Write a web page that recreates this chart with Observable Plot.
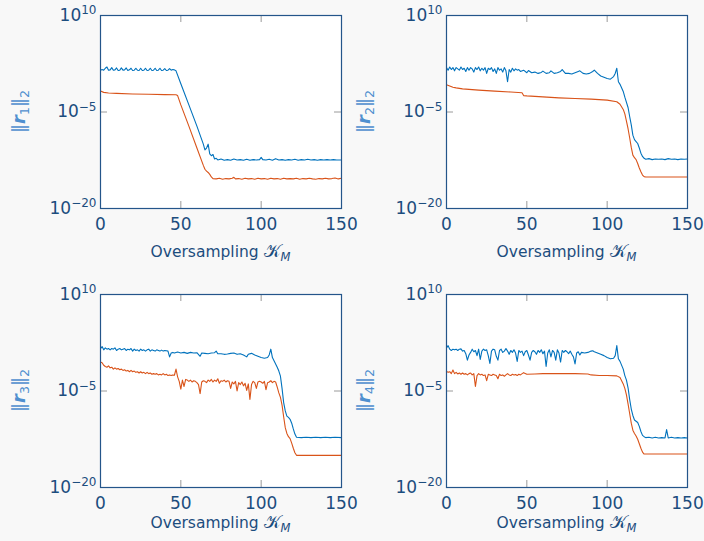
<!DOCTYPE html>
<html><head><meta charset="utf-8">
<script src="https://cdn.jsdelivr.net/npm/d3@7"></script>
<script src="https://cdn.jsdelivr.net/npm/@observablehq/plot@0.6"></script>
<style>
body{margin:0;background:#f8f8f8;}
#wrap{position:relative;width:704px;height:541px;overflow:hidden;font-family:"DejaVu Sans",sans-serif;}
.panel{position:absolute;}
</style></head><body><div id="wrap"></div>
<script>
// tick values
const kTicks = [0, 50, 100, 150];
const yTicks = [1e10, 1e-5, 1e-20];
const xLabel = "Oversampling ";
const xLabelSym = "𝒦";
const xLabelSub = "M";
const seriesNames = ["blue", "orange"];

// values are [k, log10(||r||_2)]
const r1Blue = [[0,1.5],[1,1.6],[2,1.5],[3,1.8],[4,2.0],[5,1.5],[6,1.55],[7,1.9],[8,1.5],[9,1.55],[10,1.85],[11,1.45],[12,1.5],[13,1.85],[14,1.5],[15,1.55],[16,1.85],[17,1.45],[18,1.55],[19,1.8],[20,1.45],[21,1.5],[22,1.8],[23,1.5],[24,1.45],[25,1.8],[26,1.45],[27,1.5],[28,1.8],[29,1.45],[30,1.5],[31,1.8],[32,1.45],[33,1.5],[34,1.8],[35,1.45],[36,1.5],[37,1.8],[38,1.45],[39,1.5],[40,1.75],[41,1.45],[42,1.5],[43,1.75],[44,1.5],[45,1.6],[46,1.55],[47,1.4],[50,-0.6],[55,-3.9],[60,-7.2],[64,-10.0],[65,-10.9],[66,-10.6],[67,-10.0],[68,-11.5],[69,-11.8],[70,-11.6],[71,-12.3],[72,-12.2],[73,-12.45],[75,-12.3],[77,-12.5],[79,-12.4],[81,-12.5],[83,-12.3],[85,-12.45],[87,-12.4],[89,-12.5],[91,-12.35],[93,-12.5],[95,-12.4],[97,-12.45],[99,-12.4],[100,-12.05],[101,-12.4],[103,-12.45],[105,-12.35],[107,-12.5],[109,-12.25],[111,-12.45],[113,-12.4],[115,-12.5],[117,-12.4],[119,-12.45],[121,-12.35],[123,-12.5],[125,-12.4],[127,-12.45],[129,-12.35],[131,-12.45],[133,-12.4],[135,-12.5],[137,-12.4],[139,-12.45],[141,-12.4],[143,-12.45],[145,-12.4],[147,-12.45],[150,-12.45]];
const r1Orange = [[0,-1.75],[2,-1.95],[5,-2.05],[10,-2.1],[20,-2.2],[30,-2.25],[40,-2.3],[47,-2.33],[48,-2.45],[50,-3.9],[55,-7.2],[60,-10.6],[64,-13.3],[65,-13.9],[66,-14.2],[67,-14.4],[68,-14.7],[69,-15.1],[70,-15.35],[72,-15.4],[74,-15.3],[76,-15.45],[78,-15.35],[80,-15.4],[82,-15.3],[83,-15.15],[84,-15.4],[86,-15.35],[88,-15.45],[90,-15.3],[92,-15.4],[94,-15.35],[96,-15.45],[98,-15.3],[100,-15.4],[102,-15.35],[104,-15.45],[106,-15.3],[108,-15.4],[110,-15.35],[112,-15.45],[114,-15.3],[116,-15.4],[118,-15.35],[120,-15.4],[122,-15.3],[124,-15.45],[126,-15.35],[128,-15.4],[130,-15.3],[132,-15.4],[134,-15.45],[136,-15.35],[138,-15.4],[140,-15.3],[142,-15.4],[144,-15.35],[146,-15.25],[148,-15.4],[150,-15.3]];

const r2Blue = [[0,1.9],[1,1.5],[2,2.0],[3,1.6],[4,1.9],[5,1.4],[6,1.9],[7,1.7],[8,1.5],[9,2.0],[10,1.6],[11,1.8],[12,1.3],[13,1.9],[14,1.5],[15,1.9],[16,1.7],[17,1.2],[18,1.9],[19,1.6],[20,2.0],[21,1.4],[22,1.8],[23,1.5],[24,1.9],[25,1.0],[26,1.8],[27,1.6],[28,1.9],[29,1.3],[30,1.7],[31,1.0],[32,1.9],[33,1.5],[34,1.7],[35,1.2],[36,1.9],[37,1.4],[38,-0.3],[39,1.6],[40,1.2],[41,1.8],[42,1.4],[43,1.7],[44,1.5],[45,1.6],[46,1.3],[48,1.5],[50,1.1],[51,1.45],[53,1.1],[55,1.2],[57,1.0],[59,1.15],[60,1.35],[62,1.0],[64,1.1],[65,1.4],[67,1.0],[69,1.1],[71,1.3],[72,1.6],[74,1.0],[76,1.0],[78,0.9],[80,1.1],[82,1.3],[83,1.4],[85,1.0],[87,0.9],[89,1.0],[91,1.3],[92,1.5],[94,1.0],[96,0.6],[98,0.4],[100,0.2],[102,0.1],[104,0.5],[105,1.0],[106,1.8],[107,-0.3],[108,-0.7],[110,-1.8],[111,-2.7],[113,-4.3],[114,-5.7],[115,-7.0],[116,-8.6],[117,-9.3],[118,-9.6],[119,-9.9],[120,-10.6],[121,-11.4],[122,-11.9],[123,-12.2],[124,-12.35],[126,-12.25],[128,-12.4],[130,-12.3],[132,-12.35],[134,-12.3],[136,-12.4],[138,-12.25],[140,-12.35],[142,-12.3],[144,-12.4],[146,-12.3],[148,-12.35],[150,-12.3]];
const r2Orange = [[0,-0.75],[2,-0.95],[4,-1.15],[6,-1.25],[10,-1.4],[20,-1.6],[30,-1.75],[40,-1.9],[47,-2.0],[48,-2.45],[50,-2.5],[60,-2.65],[70,-2.8],[80,-2.9],[90,-3.0],[100,-3.15],[106,-3.4],[108,-3.8],[110,-4.6],[111,-5.3],[112,-6.4],[113,-7.6],[114,-9.0],[115,-10.5],[116,-11.7],[117,-12.1],[118,-12.4],[119,-13.0],[120,-13.7],[121,-14.3],[122,-14.8],[123,-15.05],[124,-15.1],[150,-15.1]];

const r3Blue = [[0,1.6],[1,1.9],[2,1.4],[3,1.7],[4,1.5],[5,1.6],[6,1.4],[7,1.6],[8,1.5],[9,1.7],[10,1.3],[11,1.5],[12,1.6],[13,1.4],[14,1.5],[15,1.6],[16,1.3],[17,1.5],[18,1.4],[19,1.6],[20,1.2],[21,1.5],[22,1.3],[23,1.4],[24,1.2],[25,1.5],[26,1.3],[27,1.4],[28,1.2],[29,1.4],[30,1.5],[31,1.2],[32,1.4],[33,1.3],[34,1.2],[35,1.4],[36,1.3],[37,1.2],[38,1.35],[39,1.2],[40,1.3],[41,1.25],[42,1.2],[43,0.3],[44,0.9],[45,1.0],[46,0.9],[48,1.05],[50,0.9],[52,1.0],[54,0.85],[56,1.0],[58,0.9],[60,0.95],[62,0.4],[63,0.9],[65,0.85],[67,0.8],[69,0.9],[71,0.95],[72,1.2],[73,0.8],[75,0.8],[77,0.7],[79,0.75],[81,0.85],[83,0.9],[85,0.7],[87,0.8],[89,0.6],[91,0.3],[92,0.7],[94,0.85],[96,0.6],[98,0.4],[100,0.2],[102,0.1],[104,0.2],[105,0.6],[106,1.5],[107,0.2],[108,-0.3],[110,-1.3],[111,-1.9],[112,-2.7],[113,-4.6],[114,-6.8],[115,-8.1],[116,-8.9],[117,-9.1],[118,-9.4],[119,-10.0],[120,-10.9],[121,-11.7],[122,-12.2],[125,-12.25],[128,-12.2],[131,-12.25],[134,-12.2],[137,-12.25],[140,-12.2],[143,-12.25],[146,-12.2],[150,-12.25]];
const r3Orange = [[0,-0.5],[1,-0.6],[2,-1.0],[3,-1.2],[4,-1.3],[5,-1.1],[6,-1.4],[7,-1.3],[8,-1.6],[9,-1.4],[10,-1.6],[11,-1.5],[12,-1.7],[13,-1.6],[14,-1.8],[15,-1.7],[16,-1.9],[17,-1.8],[18,-2.0],[19,-1.8],[20,-2.0],[21,-1.9],[22,-2.1],[23,-2.0],[24,-2.2],[25,-2.0],[26,-2.2],[27,-2.1],[28,-2.3],[29,-2.1],[30,-2.3],[31,-2.2],[32,-2.4],[33,-2.3],[34,-2.4],[35,-2.3],[36,-2.5],[37,-2.4],[38,-2.5],[39,-2.3],[40,-2.5],[41,-2.4],[42,-2.6],[43,-2.5],[44,-2.6],[45,-2.5],[46,-2.55],[47,-1.6],[48,-2.8],[49,-3.5],[50,-4.7],[51,-3.3],[52,-4.3],[53,-3.2],[54,-3.3],[55,-3.5],[56,-3.3],[57,-3.6],[58,-3.4],[59,-3.5],[60,-3.7],[61,-4.0],[62,-5.4],[63,-3.6],[64,-3.4],[65,-3.5],[66,-3.7],[67,-3.3],[68,-3.5],[69,-3.2],[70,-3.6],[71,-3.3],[72,-3.5],[73,-3.1],[74,-3.8],[75,-3.4],[76,-3.5],[77,-3.3],[78,-3.6],[79,-3.4],[80,-3.5],[81,-4.6],[82,-3.6],[83,-3.9],[84,-3.5],[85,-5.0],[86,-3.7],[87,-4.0],[88,-3.6],[89,-4.2],[90,-3.8],[91,-4.9],[92,-3.9],[93,-6.3],[94,-4.0],[95,-3.5],[96,-3.7],[97,-4.6],[98,-3.6],[99,-3.5],[100,-3.6],[101,-3.8],[102,-3.5],[103,-4.8],[104,-3.7],[105,-3.6],[106,-3.4],[107,-3.7],[108,-3.5],[109,-3.6],[110,-4.4],[111,-5.3],[112,-6.0],[113,-7.2],[114,-9.0],[115,-10.7],[116,-11.6],[117,-12.1],[118,-12.4],[119,-13.1],[120,-13.9],[121,-14.6],[122,-15.0],[150,-15.0]];

const r4Blue = [[0,1.7],[1,2.05],[2,1.5],[3,1.3],[4,1.5],[5,1.4],[6,1.5],[7,1.3],[8,1.5],[9,1.55],[10,1.2],[11,1.3],[12,0.8],[13,-0.2],[14,0.6],[15,1.0],[16,1.5],[17,1.1],[18,1.3],[19,0.5],[20,1.5],[21,-0.1],[22,1.2],[23,1.5],[24,1.3],[25,1.4],[26,0.5],[27,-0.7],[28,1.2],[29,1.5],[30,1.4],[31,0.4],[32,-0.2],[33,1.3],[34,1.5],[35,1.0],[36,1.2],[37,1.6],[38,1.2],[39,0.7],[40,1.3],[41,1.0],[42,1.4],[43,0.9],[44,-0.4],[45,1.3],[46,1.0],[47,1.2],[48,0.5],[49,1.1],[50,1.3],[51,0.6],[52,-0.2],[53,1.0],[54,1.3],[55,1.1],[56,0.7],[57,1.3],[58,1.0],[59,1.4],[60,0.8],[61,1.2],[62,-1.2],[63,0.9],[64,1.4],[65,0.3],[66,1.3],[67,1.0],[68,-0.2],[69,1.4],[70,0.9],[71,-0.5],[72,1.3],[73,1.0],[74,1.3],[75,1.1],[76,0.8],[77,1.2],[78,0.7],[79,0.3],[80,-0.8],[81,0.9],[82,1.1],[83,0.6],[84,1.0],[86,0.9],[88,1.0],[90,1.2],[91,1.25],[92,1.1],[94,0.9],[96,0.7],[98,0.5],[100,0.2],[102,0.0],[104,0.1],[105,0.5],[106,2.05],[107,0.0],[108,-0.4],[110,-1.6],[111,-2.6],[112,-3.3],[113,-4.5],[114,-6.3],[115,-7.8],[116,-8.8],[117,-9.5],[118,-9.7],[119,-9.9],[120,-10.5],[121,-11.3],[122,-11.9],[123,-12.1],[124,-12.25],[126,-12.2],[128,-12.3],[130,-12.2],[132,-12.3],[134,-12.25],[136,-12.3],[137,-11.0],[138,-12.3],[140,-12.2],[142,-12.3],[144,-12.25],[146,-12.3],[148,-12.25],[150,-12.3]];
const r4Orange = [[0,-1.95],[1,-2.1],[2,-2.0],[3,-2.3],[4,-1.75],[5,-2.3],[6,-2.1],[7,-2.35],[8,-2.2],[9,-2.4],[10,-2.2],[11,-2.4],[12,-2.3],[13,-2.5],[14,-2.3],[15,-2.2],[16,-2.5],[17,-2.3],[18,-4.3],[19,-2.6],[20,-2.3],[21,-2.5],[22,-2.4],[23,-2.6],[24,-2.5],[25,-3.4],[26,-2.4],[27,-2.5],[28,-2.6],[29,-2.4],[30,-2.5],[31,-2.6],[32,-3.1],[33,-2.4],[34,-2.6],[35,-2.5],[36,-2.7],[37,-2.5],[38,-2.3],[39,-2.5],[40,-2.6],[41,-2.4],[42,-2.5],[43,-2.45],[44,-2.6],[45,-2.4],[46,-2.5],[48,-2.15],[50,-2.4],[55,-2.35],[60,-2.3],[70,-2.3],[80,-2.3],[88,-2.35],[90,-2.5],[95,-2.6],[100,-2.6],[106,-2.65],[108,-2.9],[110,-3.9],[111,-4.6],[112,-5.6],[113,-7.0],[114,-8.5],[115,-10.0],[116,-11.1],[117,-11.6],[118,-12.0],[119,-12.5],[120,-13.2],[121,-13.9],[122,-14.5],[123,-14.8],[150,-14.8]];

const colors = {blue: "#0072BD", orange: "#D95319"};
const tickTextColor = "#1c4d7e";
const yLabelColor = "#4f8fcf";
const frameColor = "#24558a";
const tickColor = "#9a9a9a";

const panels = [
  {n: "1", blue: r1Blue, orange: r1Orange, left: 0,   top: 0,   h: 270, ml: 100, mr: 11, mt: 15, mb: 62, labelX: 19, xBase: 257},
  {n: "2", blue: r2Blue, orange: r2Orange, left: 352, top: 0,   h: 270, ml: 94,  mr: 17, mt: 15, mb: 62, labelX: 12, xBase: 257},
  {n: "3", blue: r3Blue, orange: r3Orange, left: 0,   top: 270, h: 271, ml: 100, mr: 11, mt: 24, mb: 54, labelX: 19, xBase: 258},
  {n: "4", blue: r4Blue, orange: r4Orange, left: 352, top: 270, h: 271, ml: 94,  mr: 17, mt: 24, mb: 54, labelX: 12, xBase: 258}
];

const wrap = document.getElementById("wrap");
for (const p of panels) {
  const rows = [];
  for (const s of seriesNames) for (const [k, v] of p[s]) rows.push({k, r: Math.pow(10, v), s});
  const W = 352;
  const fw = W - p.ml - p.mr, fh = p.h - p.mt - p.mb;
  const plot = Plot.plot({
    width: W, height: p.h,
    marginLeft: p.ml, marginRight: p.mr, marginTop: p.mt, marginBottom: p.mb,
    style: {background: "transparent", fontFamily: "DejaVu Sans, sans-serif", fontSize: "17px", overflow: "visible"},
    x: {domain: [0, 150]},
    y: {type: "log", domain: [1e-20, 1e10]},
    marks: [
      Plot.frame({fill: "white", stroke: "none"}),
      Plot.tickX(kTicks, {x: d => d, stroke: tickColor, insetTop: fh - 7}),
      Plot.tickX(kTicks, {x: d => d, stroke: tickColor, insetBottom: fh - 7}),
      Plot.tickY(yTicks, {y: d => d, stroke: tickColor, insetRight: fw - 7}),
      Plot.tickY(yTicks, {y: d => d, stroke: tickColor, insetLeft: fw - 7}),
      Plot.lineY(rows, {x: "k", y: "r", z: "s", stroke: d => colors[d.s], strokeWidth: 1.1}),
      Plot.frame({stroke: frameColor, strokeWidth: 1.2}),
      Plot.axisX({ticks: kTicks, tickSize: 0, tickPadding: 9, label: null, fill: tickTextColor, fontSize: 17, tickFormat: d => String(d)}),
      Plot.axisY({ticks: yTicks, tickSize: 0, tickPadding: 4, label: null, fill: tickTextColor, fontSize: 17, tickFormat: d => "10^" + Math.round(Math.log10(d))})
    ]
  });
  plot.classList.add("panel");
  plot.style.left = p.left + "px";
  plot.style.top = p.top + "px";
  const svg = d3.select(plot);
  // superscripts on the y tick labels
  svg.selectAll("g[aria-label='y-axis tick label'] text").each(function() {
    const t = d3.select(this);
    const raw = t.text();
    const parts = raw.split("^");
    if (parts.length === 2) {
      t.text("");
      t.append("tspan").text("10");
      t.append("tspan").attr("font-size", 12).attr("dy", "-0.55em").text(parts[1].replace("-", "\u2212"));
    }
  });
  // y label ||r_n||_2
  const cy = p.mt + fh / 2;
  const yl = svg.append("text")
    .attr("transform", `translate(${p.labelX},${cy}) rotate(-90)`)
    .attr("text-anchor", "middle").attr("y", 6)
    .attr("fill", yLabelColor).attr("font-size", 18).attr("font-family", "DejaVu Sans, sans-serif");
  yl.append("tspan").text("\u2016");
  yl.append("tspan").attr("font-weight", "bold").attr("font-style", "italic").text("r");
  yl.append("tspan").attr("font-size", 12.5).attr("dy", 4).text(p.n);
  yl.append("tspan").attr("dy", -4).text("\u2016");
  yl.append("tspan").attr("font-size", 12.5).attr("dy", 4).text("2");
  // x label
  const xl = svg.append("text")
    .attr("x", p.ml + fw / 2).attr("y", p.xBase)
    .attr("text-anchor", "middle").attr("fill", tickTextColor)
    .attr("font-size", 15.5).attr("font-family", "DejaVu Sans, sans-serif");
  xl.append("tspan").text(xLabel);
  xl.append("tspan").attr("font-size", 18).text(xLabelSym);
  xl.append("tspan").attr("font-size", 11.5).attr("dy", 4).attr("font-style", "italic").text(xLabelSub);
  wrap.appendChild(plot);
}
</script>
</body></html>
